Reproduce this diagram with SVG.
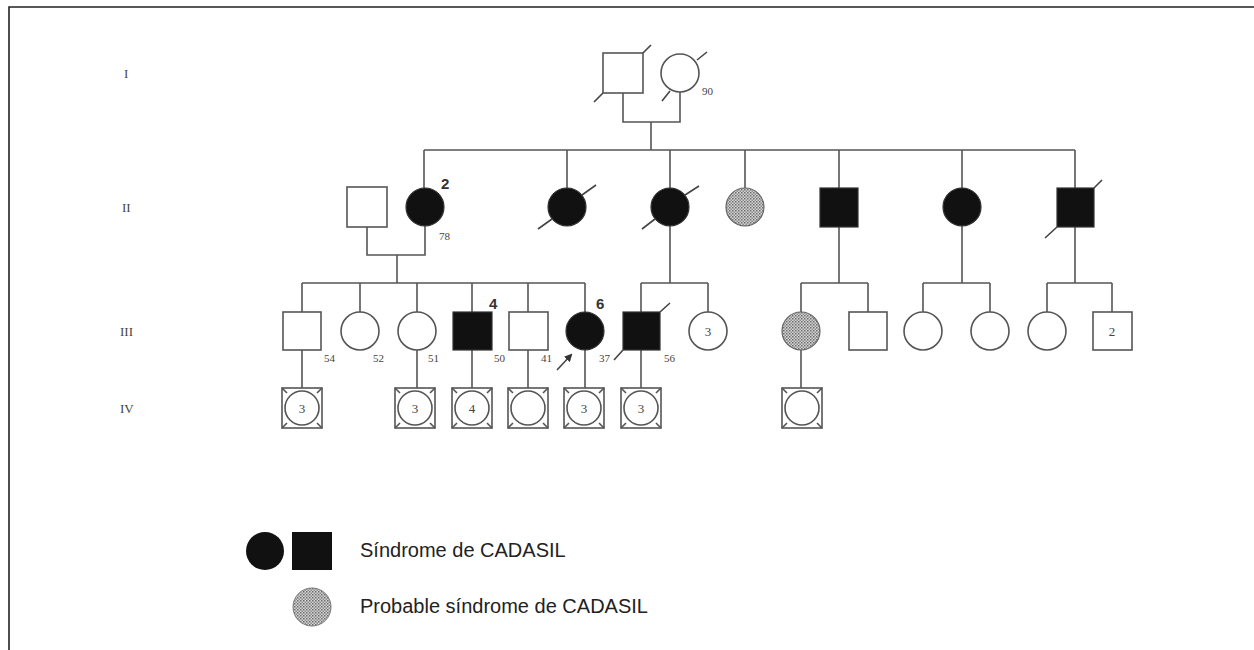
<svg xmlns="http://www.w3.org/2000/svg" width="1254" height="650" viewBox="0 0 1254 650">
<defs>
<pattern id="hatch" width="3" height="3" patternUnits="userSpaceOnUse">
<rect width="3" height="3" fill="#d6d6d6"/>
<rect width="1.5" height="1.5" fill="#6a6a6a"/>
<rect x="1.5" y="1.5" width="1.5" height="1.5" fill="#8a8a8a"/>
</pattern>
<marker id="arr" markerWidth="8" markerHeight="8" refX="6" refY="4" orient="auto" markerUnits="userSpaceOnUse">
<path d="M0,0 L8,4 L0,8 z" fill="#333"/>
</marker>
<g id="iv">
<rect x="-20" y="-20" width="40" height="40"/>
<circle r="17"/>
<path d="M-20,-20 l5,5 M20,-20 l-5,5 M-20,20 l5,-5 M20,20 l-5,-5"/>
</g>
</defs>
<style>
.ln{fill:none;stroke:#555;stroke-width:1.6}
.n{fill:#fff;stroke:#555;stroke-width:1.6}
.a{fill:#111;stroke:#333;stroke-width:1.2}
.h{fill:url(#hatch);stroke:#666;stroke-width:1.2}
.sl{stroke:#444;stroke-width:1.6;fill:none}
.gen{font-family:"Liberation Serif",serif;font-size:13px;fill:#444}
.age{font-family:"Liberation Serif",serif;font-size:11px;fill:#444}
.num{font-family:"Liberation Serif",serif;font-size:13px;fill:#444;text-anchor:middle}
.bold{font-family:"Liberation Sans",Arial,sans-serif;font-size:15px;font-weight:bold;fill:#333}
.leg{font-family:"Liberation Sans",Arial,sans-serif;font-size:20px;fill:#222}
.ivs{fill:#fff;stroke:#555;stroke-width:1.6}
</style>
<rect width="1254" height="650" fill="#fff"/>
<path d="M9,650 V7 H1254" fill="none" stroke="#222" stroke-width="1.6"/>

<g id="gen-labels">
<text class="gen" x="124" y="78">I</text>
<text class="gen" x="122" y="212">II</text>
<text class="gen" x="120" y="336">III</text>
<text class="gen" x="120" y="413">IV</text>
</g>

<g id="connectors">
<path class="ln" d="M623,93 V122 H680 V92 M651,122 V150"/>
<path class="ln" d="M424,150 H1075 M424,150 V188 M567,150 V188 M670,150 V188 M745,150 V188 M839,150 V188 M962,150 V188 M1075,150 V188"/>
<path class="ln" d="M367,227 V255 H425 V226 M397,255 V283"/>
<path class="ln" d="M302,283 H585 M302,283 V312 M360,283 V312 M417,283 V312 M472,283 V312 M528,283 V312 M585,283 V312"/>
<path class="ln" d="M670,226 V283 M641,283 H708 M641,283 V312 M708,283 V312"/>
<path class="ln" d="M839,227 V283 M801,283 H868 M801,283 V312 M868,283 V312"/>
<path class="ln" d="M962,226 V283 M923,283 H990 M923,283 V312 M990,283 V312"/>
<path class="ln" d="M1075,227 V283 M1047,283 H1112 M1047,283 V312 M1112,283 V312"/>
<path class="ln" d="M302,350 V388 M417,350 V388 M472,350 V388 M528,350 V388 M585,350 V388 M641,350 V388 M801,350 V388"/>
</g>

<g id="I-1"><rect class="n" x="603" y="53" width="40" height="40"/><path class="sl" d="M643,53 L651,45 M603,93 L594,102"/></g>
<g id="I-2"><circle class="n" cx="680" cy="73" r="19"/><path class="sl" d="M697,60 L707,52 M670,91 L662,101"/><text class="age" x="702" y="95">90</text></g>

<g id="II-0"><rect class="n" x="347" y="187" width="40" height="40"/></g>
<g id="II-1"><circle class="a" cx="425" cy="207" r="19"/><text class="bold" x="441" y="189">2</text><text class="age" x="439" y="240">78</text></g>
<g id="II-2"><circle class="a" cx="567" cy="207" r="19"/><path class="sl" d="M552,219 L538,229 M582,195 L596,185"/></g>
<g id="II-3"><circle class="a" cx="670" cy="207" r="19"/><path class="sl" d="M655,219 L642,229 M685,195 L699,186"/></g>
<g id="II-4"><circle class="h" cx="745" cy="207" r="19"/></g>
<g id="II-5"><rect class="a" x="820" y="188" width="38" height="39"/></g>
<g id="II-6"><circle class="a" cx="962" cy="207" r="19"/></g>
<g id="II-7"><rect class="a" x="1057" y="188" width="37" height="39"/><path class="sl" d="M1057,227 L1045,238 M1094,188 L1102,180"/></g>

<g id="III-1"><rect class="n" x="283" y="312" width="38" height="38"/><text class="age" x="324" y="362">54</text></g>
<g id="III-2"><circle class="n" cx="360" cy="331" r="19"/><text class="age" x="373" y="362">52</text></g>
<g id="III-3"><circle class="n" cx="417" cy="331" r="19"/><text class="age" x="428" y="362">51</text></g>
<g id="III-4"><rect class="a" x="453" y="312" width="39" height="38"/><text class="bold" x="489" y="309">4</text><text class="age" x="494" y="362">50</text></g>
<g id="III-5"><rect class="n" x="509" y="312" width="39" height="38"/><text class="age" x="541" y="362">41</text></g>
<g id="III-6"><circle class="a" cx="585" cy="331" r="19"/><text class="bold" x="596" y="309">6</text><text class="age" x="599" y="362">37</text><path class="sl" d="M557,370 L571,355" marker-end="url(#arr)"/></g>
<g id="III-7"><rect class="a" x="623" y="312" width="37" height="38"/><path class="sl" d="M623,350 L614,360 M660,312 L670,303"/><text class="age" x="664" y="362">56</text></g>
<g id="III-8"><circle class="n" cx="708" cy="331" r="19"/><text class="num" x="708" y="336">3</text></g>
<g id="III-9"><circle class="h" cx="801" cy="331" r="19"/></g>
<g id="III-10"><rect class="n" x="849" y="312" width="38" height="38"/></g>
<g id="III-11"><circle class="n" cx="923" cy="331" r="19"/></g>
<g id="III-12"><circle class="n" cx="990" cy="331" r="19"/></g>
<g id="III-13"><circle class="n" cx="1047" cy="331" r="19"/></g>
<g id="III-14"><rect class="n" x="1093" y="312" width="39" height="38"/><text class="num" x="1112" y="336">2</text></g>

<g id="IV-1" class="ivs"><use href="#iv" x="302" y="408"/><text class="num" x="302" y="413" stroke="none">3</text></g>
<g id="IV-2" class="ivs"><use href="#iv" x="415" y="408"/><text class="num" x="415" y="413" stroke="none">3</text></g>
<g id="IV-3" class="ivs"><use href="#iv" x="472" y="408"/><text class="num" x="472" y="413" stroke="none">4</text></g>
<g id="IV-4" class="ivs"><use href="#iv" x="528" y="408"/></g>
<g id="IV-5" class="ivs"><use href="#iv" x="584" y="408"/><text class="num" x="584" y="413" stroke="none">3</text></g>
<g id="IV-6" class="ivs"><use href="#iv" x="641" y="408"/><text class="num" x="641" y="413" stroke="none">3</text></g>
<g id="IV-7" class="ivs"><use href="#iv" x="802" y="408"/></g>

<g id="legend">
<circle cx="265" cy="551" r="19" fill="#111"/>
<rect x="292" y="532" width="40" height="38" fill="#111"/>
<text class="leg" x="360" y="557">Síndrome de CADASIL</text>
<circle cx="312" cy="607" r="19" fill="url(#hatch)" stroke="#777" stroke-width="1"/>
<text class="leg" x="360" y="613">Probable síndrome de CADASIL</text>
</g>
</svg>
